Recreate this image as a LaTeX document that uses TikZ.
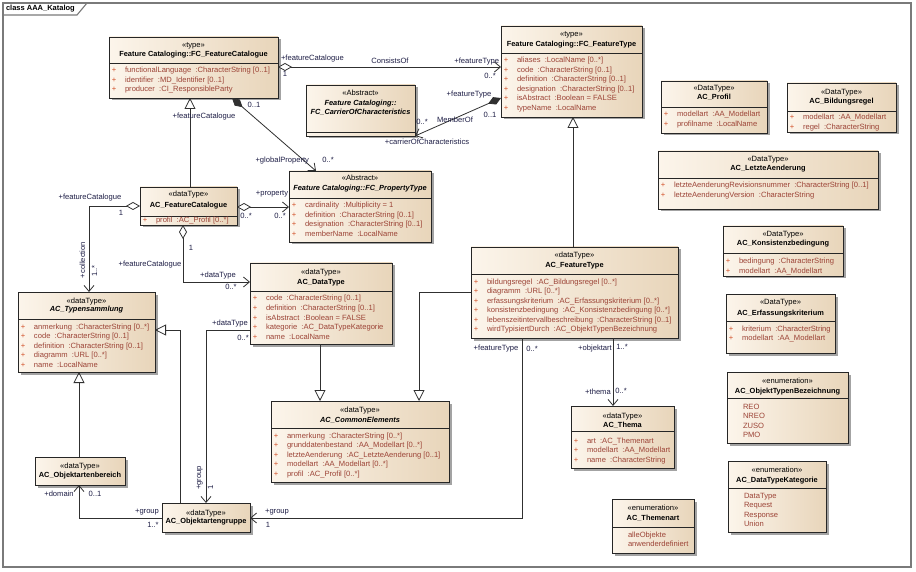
\documentclass[tikz,border=0pt]{standalone}
\usepackage{fontspec}
\setmainfont{Liberation Sans}
\usetikzlibrary{arrows.meta,shadows}

\definecolor{boxL}{HTML}{FCF5EB}
\definecolor{boxR}{HTML}{E8D5BA}
\definecolor{attrc}{HTML}{9C4336}
\definecolor{plusc}{HTML}{D2522A}
\definecolor{linec}{HTML}{303030}
\definecolor{labc}{HTML}{1E1E46}
\definecolor{framec}{HTML}{7A7A7A}

\tikzset{
  x=1pt, y=-1pt,
  umltext/.style={font=\fontsize{7.6}{9}\selectfont, inner sep=0pt, outer sep=0pt,
                  text height=5.6pt, text depth=1.6pt},
  classbox/.style={draw=black!85, line width=0.9pt, anchor=north west, inner sep=0pt,
                   outer sep=0pt, left color=boxL, right color=boxR,
                   drop shadow={shadow xshift=2.5pt, shadow yshift=-2.5pt,
                                fill=black!40, opacity=0.9}},
  stereotxt/.style={umltext},
  nametxt/.style={umltext, font=\fontsize{7.4}{9}\selectfont\bfseries},
  attrtxt/.style={umltext, text=attrc, anchor=west},
  plustxt/.style={umltext, text=plusc},
  sepline/.style={draw=black!85, line width=0.9pt},
  rel/.style={draw=linec, line width=0.8pt},
  gen/.style={rel, -{Triangle[open, length=11pt, width=11pt]}},
  nav/.style={rel, -{Straight Barb[length=6pt, width=10pt]}},
  aggnav/.style={rel, {Diamond[fill=white, length=14pt, width=8pt]}-{Straight Barb[length=6pt, width=10pt]}},
  compnav/.style={rel, {Diamond[length=14pt, width=8pt]}-{Straight Barb[length=6pt, width=10pt]}},
  lab/.style={umltext, text=labc},
}

% class box: name, left, top, width, height
\newcommand\umlclass[5]{\node[classbox, minimum width=#4pt, minimum height=#5pt] (#1) at (#2,#3) {};}
% header: name, y of stereotype, stereotype, y of title, title
\newcommand\umlhead[5]{%
  \node[stereotxt] (#1-s) at (#1.north |- 0,#2) {«#3»};
  \node[nametxt] (#1-t) at (#1.north |- 0,#4) {#5};}
% compartment separator
\newcommand\umlsep[2]{\draw[sepline] (#1.west |- 0,#2) -- (#1.east |- 0,#2);}
% attribute list: name, left of box, y of first line, items
\newcommand\umlattrs[4]{%
  \foreach \a [count=\i] in {#4} {
    \pgfmathsetmacro\yy{#3+(\i-1)*9.5}
    \node[plustxt] (#1-p\i) at (#2+5,\yy) {+};
    \node[attrtxt] (#1-a\i) at (#2+16,\yy) {\a};
  }}
% enumeration literals: name, left of box, y of first line, items
\newcommand\umlitems[4]{%
  \foreach \a [count=\i] in {#4} {
    \pgfmathsetmacro\yy{#3+(\i-1)*9.5}
    \node[attrtxt] (#1-a\i) at (#2+16,\yy) {\a};
  }}

\begin{document}
\begin{tikzpicture}
\useasboundingbox (0,0) rectangle (916,572);
\fill[white] (0,0) rectangle (916,572);

% diagram frame
\draw[framec, line width=1.4pt] (3,3) rectangle (911,567);
\draw[framec, line width=1.1pt] (3,15) -- (77,15) -- (87,3);
\node[umltext, font=\fontsize{7.5}{9}\selectfont\bfseries, anchor=west] (frametitle) at (6,9) {class AAA\_Katalog};

% ---------- classes ----------
\umlclass{fcfc}{109}{37}{169}{61}
\umlhead{fcfc}{46}{type}{55}{Feature Cataloging::FC\_FeatureCatalogue}
\umlsep{fcfc}{63}
\umlattrs{fcfc}{109}{71}{{functionalLanguage~ :CharacterString [0..1]},{identifier~ :MD\_Identifier [0..1]},{producer~ :CI\_ResponsibleParty}}

\umlclass{fccc}{306}{85}{109}{51}
\node[stereotxt] (fccc-s) at (fccc.north |- 0,94) {«Abstract»};
\node[nametxt] (fccc-t) at (fccc.north |- 0,104) {\itshape Feature Cataloging::};
\node[nametxt] (fccc-t2) at (fccc.north |- 0,113) {\itshape FC\_CarrierOfCharacteristics};
\umlsep{fccc}{132}

\umlclass{fcft}{501}{26}{141}{91}
\umlhead{fcft}{35}{type}{45}{Feature Cataloging::FC\_FeatureType}
\umlsep{fcft}{53}
\umlattrs{fcft}{501}{61}{{aliases~ :LocalName [0..*]},{code~ :CharacterString [0..1]},{definition~ :CharacterString [0..1]},{designation~ :CharacterString [0..1]},{isAbstract~ :Boolean = FALSE},{typeName~ :LocalName}}

\umlclass{acprofil}{661}{81}{106}{52}
\umlhead{acprofil}{89}{DataType}{98}{AC\_Profil}
\umlsep{acprofil}{107}
\umlattrs{acprofil}{661}{115}{{modellart~ :AA\_Modellart},{profilname~ :LocalName}}

\umlclass{acbild}{787}{83}{109}{49}
\umlhead{acbild}{93}{DataType}{102}{AC\_Bildungsregel}
\umlsep{acbild}{111}
\umlattrs{acbild}{787}{118}{{modellart~ :AA\_Modellart},{regel~ :CharacterString}}

\umlclass{acletzte}{658}{151}{220}{58}
\umlhead{acletzte}{160}{DataType}{169}{AC\_LetzteAenderung}
\umlsep{acletzte}{178}
\umlattrs{acletzte}{658}{186}{{letzteAenderungRevisionsnummer~ :CharacterString [0..1]},{letzteAenderungVersion~ :CharacterString}}

\umlclass{ackons}{723}{226}{120}{50}
\umlhead{ackons}{235}{DataType}{244}{AC\_Konsistenzbedingung}
\umlsep{ackons}{253}
\umlattrs{ackons}{723}{262}{{bedingung~ :CharacterString},{modellart~ :AA\_Modellart}}

\umlclass{acerf}{726}{294}{109}{59}
\umlhead{acerf}{303}{DataType}{313}{AC\_Erfassungskriterium}
\umlsep{acerf}{321}
\umlattrs{acerf}{726}{329}{{kriterium~ :CharacterString},{modellart~ :AA\_Modellart}}

\umlclass{acobjtyp}{727}{372}{121}{71}
\umlhead{acobjtyp}{381}{enumeration}{391}{AC\_ObjektTypenBezeichnung}
\umlsep{acobjtyp}{398}
\umlitems{acobjtyp}{727}{407}{REO,NREO,ZUSO,PMO}

\umlclass{acdtk}{728}{461}{98}{71}
\umlhead{acdtk}{470}{enumeration}{480}{AC\_DataTypeKategorie}
\umlsep{acdtk}{488}
\umlitems{acdtk}{728}{496}{DataType,Request,Response,Union}

\umlclass{acthemenart}{612}{499}{82}{54}
\umlhead{acthemenart}{508}{enumeration}{518}{AC\_Themenart}
\umlsep{acthemenart}{527}
\umlitems{acthemenart}{612}{535}{alleObjekte,anwenderdefiniert}

\umlclass{acthema}{571}{406}{103}{62}
\umlhead{acthema}{416}{dataType}{425}{AC\_Thema}
\umlsep{acthema}{431}
\umlattrs{acthema}{571}{441}{{art~ :AC\_Themenart},{modellart~ :AA\_Modellart},{name~ :CharacterString}}

\umlclass{acce}{271}{401}{178}{81}
\umlhead{acce}{410}{dataType}{420}{\itshape AC\_CommonElements}
\umlsep{acce}{428}
\umlattrs{acce}{271}{436}{{anmerkung~ :CharacterString [0..*]},{grunddatenbestand~ :AA\_Modellart [0..*]},{letzteAenderung~ :AC\_LetzteAenderung [0..1]},{modellart~ :AA\_Modellart [0..*]},{profil~ :AC\_Profil [0..*]}}

\umlclass{acft}{471}{247}{207}{91}
\umlhead{acft}{256}{dataType}{266}{AC\_FeatureType}
\umlsep{acft}{274}
\umlattrs{acft}{471}{282}{{bildungsregel~ :AC\_Bildungsregel [0..*]},{diagramm~ :URL [0..*]},{erfassungskriterium~ :AC\_Erfassungskriterium [0..*]},{konsistenzbedingung~ :AC\_Konsistenzbedingung [0..*]},{lebenszeitintervallbeschreibung~ :CharacterString [0..1]},{wirdTypisiertDurch~ :AC\_ObjektTypenBezeichnung}}

\umlclass{acdt}{250}{263}{142}{81}
\umlhead{acdt}{273}{dataType}{282}{AC\_DataType}
\umlsep{acdt}{291}
\umlattrs{acdt}{250}{299}{{code~ :CharacterString [0..1]},{definition~ :CharacterString [0..1]},{isAbstract~ :Boolean = FALSE},{kategorie~ :AC\_DataTypeKategorie},{name~ :LocalName}}

\umlclass{actyp}{18}{292}{137}{80}
\umlhead{actyp}{301}{dataType}{310}{\itshape AC\_Typensammlung}
\umlsep{actyp}{319}
\umlattrs{actyp}{18}{327}{{anmerkung~ :CharacterString [0..*]},{code~ :CharacterString [0..1]},{definition~ :CharacterString [0..1]},{diagramm~ :URL [0..*]},{name~ :LocalName}}

\umlclass{acfc}{140}{187}{97}{38}
\umlhead{acfc}{195}{dataType}{206}{AC\_FeatureCatalogue}
\umlsep{acfc}{216}
\umlattrs{acfc}{140}{221}{{profil~ :AC\_Profil [0..*]}}

\umlclass{fcpt}{289}{171}{142}{71}
\umlhead{fcpt}{179}{Abstract}{189}{\itshape Feature Cataloging::FC\_PropertyType}
\umlsep{fcpt}{198}
\umlattrs{fcpt}{289}{206}{{cardinality~ :Multiplicity = 1},{definition~ :CharacterString [0..1]},{designation~ :CharacterString [0..1]},{memberName~ :LocalName}}

\umlclass{acobb}{35}{457}{90}{28}
\umlhead{acobb}{466}{dataType}{475}{AC\_Objektartenbereich}

\umlclass{acobg}{162}{503}{88}{29}
\umlhead{acobg}{513}{dataType}{521}{AC\_Objektartengruppe}

% ---------- relations ----------
% ConsistsOf
\draw[aggnav] (fcfc.east |- 0,67) -- (fcft.west |- 0,67);
\node[lab, anchor=west] (c1a) at (281,59) {+featureCatalogue};
\node[lab] (c1b) at (285,75) {1};
\node[lab] (c1c) at (390,62) {ConsistsOf};
\node[lab, anchor=east] (c1d) at (499,62) {+featureType};
\node[lab] (c1e) at (490,77) {0..*};

% MemberOf
\draw[compnav] (fcft.west |- 0,98) -- (fccc.south east);
\node[lab] (c2a) at (469,95) {+featureType};
\node[lab] (c2b) at (490,116) {0..1};
\node[lab] (c2c) at (455,121) {MemberOf};
\node[lab] (c2d) at (422,123) {0..*};
\node[lab] (c2e) at (427,143) {+carrierOfCharacteristics};

% global property
\draw[compnav] (fcfc.south -| 232,0) -- (fcpt.north -| 316,0);
\node[lab] (c3a) at (254,106) {0..1};
\node[lab, anchor=east] (c3b) at (309,161) {+globalProperty};
\node[lab] (c3c) at (328,161) {0..*};

% AC_FeatureCatalogue specialises FC_FeatureCatalogue
\draw[gen] (acfc.north -| 190,0) -- (fcfc.south -| 190,0);
\node[lab] (c4a) at (204,117) {+featureCatalogue};

% property
\draw[aggnav] (acfc.east |- 0,207) -- (fcpt.west |- 0,207);
\node[lab] (c5a) at (272,194) {+property};
\node[lab] (c5b) at (246,217) {0..*};
\node[lab] (c5c) at (280,217) {0..*};

% collection
\draw[aggnav] (acfc.west |- 0,206) -| (actyp.north -| 89,0);
\node[lab] (c6a) at (90,198) {+featureCatalogue};
\node[lab] (c6b) at (121,214) {1};
\node[lab, rotate=90] (c6c) at (83,260) {+collection};
\node[lab, rotate=90] (c6d) at (95,271) {1..*};

% dataType of the catalogue
\draw[aggnav] (acfc.south -| 183,0) |- (acdt.west |- 0,282);
\node[lab] (c7a) at (191,249) {1};
\node[lab, fill=white, inner xsep=1pt] (c7b) at (150,265) {+featureCatalogue};
\node[lab] (c7c) at (218,275) {+dataType};
\node[lab] (c7d) at (231,288) {0..*};

% dataType / group
\draw[nav] (acdt.west |- 0,330) -| (acobg.north -| 206,0);
\node[lab] (c8a) at (230,323) {+dataType};
\node[lab] (c8b) at (243,338) {0..*};
\node[lab, rotate=90] (c8c) at (199,478) {+group};
\node[lab, rotate=90] (c8d) at (211,487) {1};

% specialisations of AC_CommonElements and FC_FeatureType
\draw[gen] (acdt.south -| 320,0) -- (acce.north -| 320,0);
\draw[gen] (acft.west |- 0,292) -| (acce.north -| 419,0);
\draw[gen] (acft.north -| 573,0) -- (fcft.south -| 573,0);

% featureType / group
\draw[nav] (acft.south -| 522,0) |- (acobg.east |- 0,518);
\node[lab] (c9a) at (496,348) {+featureType};
\node[lab] (c9b) at (532,349) {0..*};
\node[lab] (c9c) at (277,511) {+group};
\node[lab] (c9d) at (268,525) {1};

% objektart / thema
\draw[nav] (acft.south -| 613,0) -- (acthema.north -| 613,0);
\node[lab] (c10a) at (595,348) {+objektart};
\node[lab] (c10b) at (622,347) {1..*};
\node[lab] (c10c) at (598,392) {+thema};
\node[lab] (c10d) at (621,391) {0..*};

% specialisations of AC_Typensammlung
\draw[gen] (acobg.north -| 180,0) |- (actyp.east |- 0,330);
\draw[gen] (acobb.north -| 79,0) -- (actyp.south -| 79,0);

% domain / group
\draw[nav] (acobg.west |- 0,518) -| (acobb.south -| 79,0);
\node[lab] (c11a) at (59,494) {+domain};
\node[lab] (c11b) at (95,494) {0..1};
\node[lab] (c11c) at (147,511) {+group};
\node[lab] (c11d) at (153,525) {1..*};
\end{tikzpicture}
\end{document}
